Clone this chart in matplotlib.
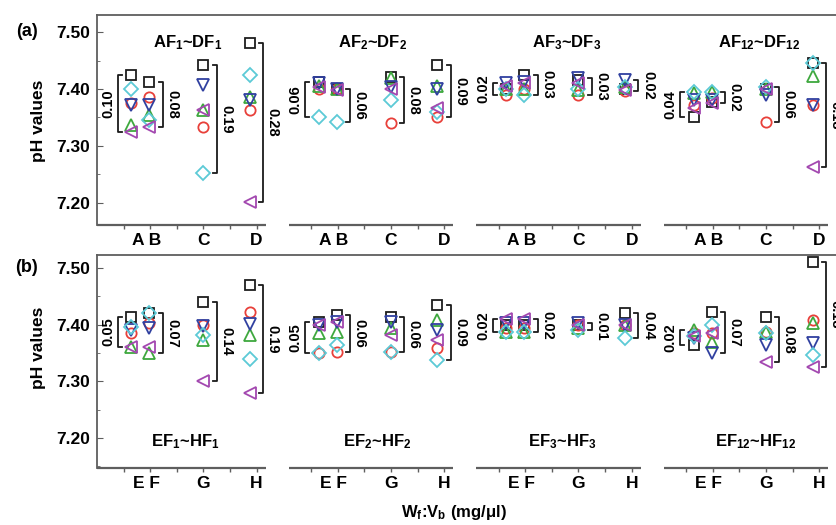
import numpy as np
import matplotlib.pyplot as plt
from matplotlib.ticker import MultipleLocator, FixedLocator, FormatStrFormatter

plt.rcParams['font.family'] = ['Liberation Sans', 'DejaVu Sans']
plt.rcParams['font.weight'] = 'bold'
plt.rcParams['mathtext.default'] = 'regular'

groups = ['1', '2', '3', '12']

# panel (a): groups F1, F2, F3, F12; inside each group the samples A, B, C, D
square_a = [7.425, 7.412, 7.442, 7.481, 7.412, 7.400, 7.421, 7.442,
            7.400, 7.425, 7.416, 7.400, 7.351, 7.377, 7.400, 7.446]
circle_a = [7.376, 7.386, 7.333, 7.363, 7.400, 7.400, 7.340, 7.350,
            7.390, 7.400, 7.390, 7.396, 7.372, 7.384, 7.342, 7.372]
up_a = [7.337, 7.354, 7.363, 7.386, 7.405, 7.400, 7.420, 7.405,
        7.400, 7.400, 7.398, 7.404, 7.393, 7.395, 7.400, 7.422]
down_a = [7.372, 7.372, 7.407, 7.381, 7.410, 7.400, 7.404, 7.400,
          7.410, 7.412, 7.420, 7.416, 7.381, 7.380, 7.390, 7.372]
diamond_a = [7.400, 7.345, 7.253, 7.425, 7.351, 7.342, 7.381, 7.360,
             7.400, 7.390, 7.400, 7.404, 7.395, 7.395, 7.403, 7.446]
left_a = [7.325, 7.333, 7.363, 7.202, 7.403, 7.398, 7.400, 7.366,
          7.405, 7.410, 7.410, 7.398, 7.366, 7.375, 7.400, 7.263]
ranges_a = ['0.10', '0.08', '0.19', '0.28', '0.06', '0.06', '0.08', '0.09',
            '0.02', '0.03', '0.03', '0.02', '0.04', '0.02', '0.06', '0.18']

# panel (b): samples E, F, G, H
square_b = [7.414, 7.420, 7.440, 7.470, 7.405, 7.417, 7.414, 7.435,
            7.400, 7.400, 7.400, 7.420, 7.364, 7.422, 7.414, 7.510]
circle_b = [7.385, 7.403, 7.400, 7.422, 7.350, 7.352, 7.352, 7.358,
            7.395, 7.395, 7.400, 7.400, 7.385, 7.385, 7.387, 7.408]
up_b = [7.360, 7.350, 7.373, 7.382, 7.385, 7.387, 7.394, 7.408,
        7.387, 7.387, 7.395, 7.400, 7.390, 7.370, 7.387, 7.403]
down_b = [7.390, 7.394, 7.397, 7.402, 7.400, 7.405, 7.405, 7.390,
          7.403, 7.403, 7.403, 7.400, 7.377, 7.350, 7.364, 7.368]
diamond_b = [7.396, 7.420, 7.382, 7.340, 7.350, 7.364, 7.352, 7.338,
             7.387, 7.387, 7.390, 7.377, 7.380, 7.400, 7.385, 7.347]
left_b = [7.360, 7.360, 7.300, 7.280, 7.400, 7.405, 7.382, 7.373,
          7.410, 7.410, 7.400, 7.400, 7.380, 7.385, 7.334, 7.326]
ranges_b = ['0.05', '0.07', '0.14', '0.19', '0.05', '0.06', '0.06', '0.09',
            '0.02', '0.02', '0.01', '0.04', '0.02', '0.07', '0.08', '0.18']

styles = [('s', '#1e1e1e', 6.8), ('o', '#e8403a', 7.4), ('^', '#3ea83e', 8.0),
          ('v', '#3040a0', 8.0), ('D', '#5ccad6', 6.8), ('<', '#a348b0', 8.0)]

gray = '#5e5e5e'
gstep = 7.05
cat_pos = [1.28, 1.97, 4.0, 5.75]
lab_pos = [1.85, 4.0, 6.0]

fig = plt.figure(figsize=(8.37, 5.25), dpi=100)
ax_a = fig.add_axes([97 / 837, 1 - 225 / 525, 1 - 97 / 837, 210 / 525])
ax_b = fig.add_axes([97 / 837, 1 - 468 / 525, 1 - 97 / 837, 213 / 525])


def draw_panel(ax, series, ranges, cats, ylim, title_fmt, title_y, title_x):
    ax.set_xlim(0, 27.82)
    ax.set_ylim(*ylim)
    for s in ['right', 'bottom']:
        ax.spines[s].set_visible(False)
    for s in ['left', 'top']:
        ax.spines[s].set_color(gray)
        ax.spines[s].set_linewidth(1.3)
    ax.yaxis.set_major_locator(MultipleLocator(0.1))
    ax.yaxis.set_minor_locator(MultipleLocator(0.05))
    ax.yaxis.set_major_formatter(FormatStrFormatter('%.2f'))
    ax.tick_params(axis='y', which='both', direction='in', color=gray,
                   labelsize=12.5, pad=5)
    ax.tick_params(axis='y', which='major', length=4)
    ax.tick_params(axis='y', which='minor', length=2.5)

    majors, labels, minors = [], [], []
    for g in range(4):
        x0 = g * gstep
        majors += [x0 + p for p in lab_pos]
        labels += [cats[0] + ' ' + cats[1], cats[2], cats[3]]
        minors += [x0 + k for k in range(1, 7)]
    ax.xaxis.remove_overlapping_locs = False
    ax.xaxis.set_major_locator(FixedLocator(majors))
    ax.set_xticklabels(labels)
    ax.xaxis.set_minor_locator(FixedLocator(minors))
    ax.tick_params(axis='x', which='major', length=0, pad=6, labelsize=12.5)
    ax.tick_params(axis='x', which='minor', length=3, direction='out',
                   color=gray, width=1)

    ylo = ylim[0]
    for g in range(4):
        x0 = g * gstep
        start = 0 if g == 0 else x0 + 0.15
        ax.plot([start, x0 + 6.35], [ylo, ylo], color=gray, lw=1.6,
                clip_on=False, solid_capstyle='butt')
        ax.text(x0 + title_x[g], title_y, title_fmt % (groups[g], groups[g]),
                ha='center', va='center', fontsize=12)
        xs = x0 + np.array(cat_pos)
        for vals, (m, c, ms) in zip(series, styles):
            ax.plot(xs, vals[g * 4:(g + 1) * 4], ls='none', marker=m, ms=ms,
                    mfc='none', mec=c, mew=1.3, clip_on=False)
        for k in range(4):
            i = g * 4 + k
            col = [s[i] for s in series]
            hi, lo = max(col), min(col)
            side = -1 if k == 0 else 1
            bx = xs[k] + side * 0.5
            ax.plot([bx - side * 0.15, bx, bx, bx - side * 0.15], [hi, hi, lo, lo],
                    color='#1a1a1a', lw=1.3, clip_on=False)
            ax.text(bx + side * 0.36, (hi + lo) / 2, ranges[i],
                    rotation=90 if side < 0 else 270, ha='center', va='center',
                    fontsize=10.5)


draw_panel(ax_a, [square_a, circle_a, up_a, down_a, diamond_a, left_a], ranges_a,
           ['A', 'B', 'C', 'D'], (7.161, 7.530), 'AF$_{%s}$~DF$_{%s}$', 7.481,
           [3.4, 3.3, 3.55, 3.75])
draw_panel(ax_b, [square_b, circle_b, up_b, down_b, diamond_b, left_b], ranges_b,
           ['E', 'F', 'G', 'H'], (7.147, 7.523), 'EF$_{%s}$~HF$_{%s}$', 7.193,
           [3.3, 3.5, 3.4, 3.6])

fig.text(27 / 837, 1 - 32 / 525, '(a)', ha='center', va='center', fontsize=13)
fig.text(27 / 837, 1 - 267 / 525, '(b)', ha='center', va='center', fontsize=13)
fig.text(38 / 837, 1 - 121 / 525, 'pH values', rotation=90, ha='center',
         va='center', fontsize=12.5)
fig.text(38 / 837, 1 - 348 / 525, 'pH values', rotation=90, ha='center',
         va='center', fontsize=12.5)
fig.text(454 / 837, 1 - 512 / 525, 'W$_f$:V$_b$ (mg/μl)', ha='center',
         va='center', fontsize=12)

fig.savefig('out.png', dpi=100)
